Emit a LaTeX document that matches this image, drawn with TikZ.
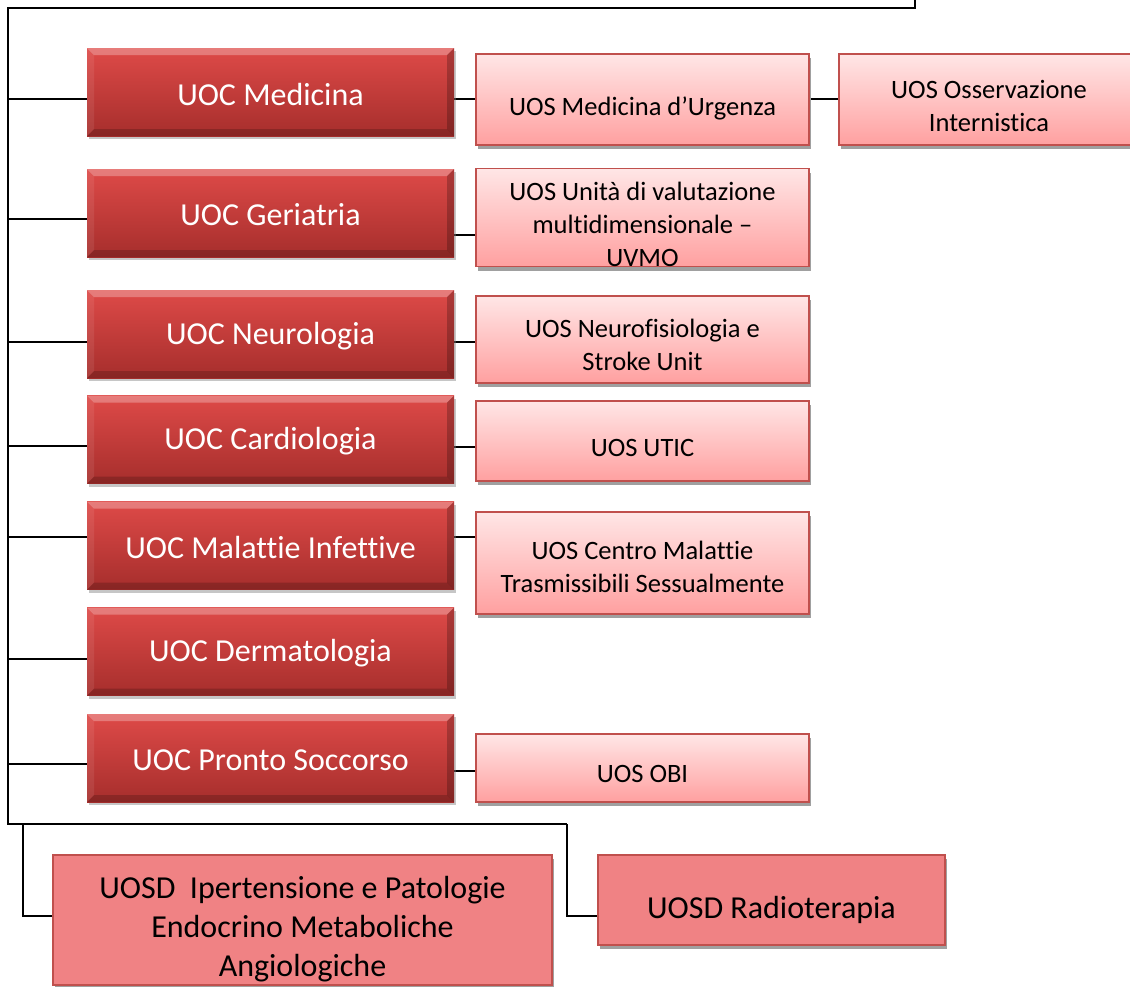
\documentclass[tikz,border=0pt]{standalone}
\usepackage{fontspec}
\setmainfont{Carlito}[Ligatures=CommonOff]
\usetikzlibrary{shadows,backgrounds,calc}
\definecolor{redtop}{RGB}{222,74,72}
\definecolor{redbot}{RGB}{166,46,44}
\definecolor{pinktop}{RGB}{255,230,230}
\definecolor{pinkbot}{RGB}{255,160,160}
\definecolor{pinkline}{RGB}{192,80,77}
\definecolor{uosdfill}{RGB}{240,130,132}
\definecolor{shadowgray}{RGB}{160,160,160}
\newcommand\lowr[2]{\raisebox{-#1}[\height][\depth]{#2}}
\begin{document}
\begin{tikzpicture}[x=1pt,y=-1pt,
  conn/.style={draw=black,line width=2pt},
  bevelpic/.style={path picture={
    \fill[white,opacity=.28] (path picture bounding box.north west) -- (path picture bounding box.north east)
      -- ([shift={(-7pt,-7pt)}]path picture bounding box.north east) -- ([shift={(7pt,-7pt)}]path picture bounding box.north west) -- cycle;
    \fill[black,opacity=.18] (path picture bounding box.south west) -- (path picture bounding box.south east)
      -- ([shift={(-7pt,7pt)}]path picture bounding box.south east) -- ([shift={(7pt,7pt)}]path picture bounding box.south west) -- cycle;
    \fill[black,opacity=.22] (path picture bounding box.north east) -- (path picture bounding box.south east)
      -- ([shift={(-7pt,7pt)}]path picture bounding box.south east) -- ([shift={(-7pt,-7pt)}]path picture bounding box.north east) -- cycle;
    \fill[white,opacity=.08] (path picture bounding box.north west) -- (path picture bounding box.south west)
      -- ([shift={(7pt,7pt)}]path picture bounding box.south west) -- ([shift={(7pt,-7pt)}]path picture bounding box.north west) -- cycle;
  }},
  redbox/.style={rectangle, draw=none, top color=redtop, bottom color=redbot, bevelpic,
    minimum width=367pt, minimum height=88pt, inner sep=0pt, text=white,
    font=\fontsize{32}{38}\selectfont,
    drop shadow={opacity=.45, shadow xshift=2pt, shadow yshift=-3pt}},
  pinkbox/.style={rectangle, draw=pinkline, line width=1.5pt, top color=pinktop, bottom color=pinkbot,
    minimum width=333pt, inner sep=0pt, align=center, text=black,
    font=\fontsize{26.5}{32}\selectfont,
    drop shadow={fill=shadowgray, opacity=1, shadow xshift=2pt, shadow yshift=-4pt}},
  uosdbox/.style={rectangle, draw=pinkline, line width=1.5pt, fill=uosdfill,
    inner sep=0pt, align=center, text=black,
    font=\fontsize{32}{38}\selectfont,
    drop shadow={fill=shadowgray, opacity=1, shadow xshift=2pt, shadow yshift=-4pt}}
]
\useasboundingbox (0,0) rectangle (1130,986);

% UOC boxes
\node[redbox] (m1) at (270.5,92) {\lowr{3pt}{UOC Medicina}};
\node[redbox] (m2) at (270.5,213) {\lowr{2pt}{UOC Geriatria}};
\node[redbox] (m3) at (270.5,334) {\lowr{2pt}{UOC Neurologia}};
\node[redbox] (m4) at (270.5,439.5) {\lowr{2pt}{UOC Cardiologia}};
\node[redbox] (m5) at (270.5,545.5) {\lowr{2pt}{UOC Malattie Infettive}};
\node[redbox] (m6) at (270.5,651.5) {\lowr{2pt}{UOC Dermatologia}};
\node[redbox] (m7) at (270.5,758) {\lowr{2pt}{UOC Pronto Soccorso}};

% UOS boxes
\node[pinkbox, minimum height=91pt] (p1) at (642.5,99.5) {\lowr{9pt}{UOS Medicina d’Urgenza}};
\node[pinkbox, minimum height=91pt, minimum width=300pt] (p1b) at (989,99.5) {\lowr{9pt}{\begin{tabular}{@{}c@{}}UOS Osservazione\\[1pt] Internistica\end{tabular}}};
\node[pinkbox, minimum height=97pt] (p2) at (642.5,217.5) {\lowr{9.5pt}{\begin{tabular}{@{}c@{}}UOS Unità di valutazione\\[1pt] multidimensionale –\\[1pt] UVMO\end{tabular}}};
\node[pinkbox, minimum height=87pt] (p3) at (642.5,339.5) {\lowr{8.5pt}{\begin{tabular}{@{}c@{}}UOS Neurofisiologia e\\[1pt] Stroke Unit\end{tabular}}};
\node[pinkbox, minimum height=80pt] (p4) at (642.5,441) {\lowr{7pt}{UOS UTIC}};
\node[pinkbox, minimum height=102pt] (p5) at (642.5,563) {\lowr{7pt}{\begin{tabular}{@{}c@{}}UOS Centro Malattie\\[1pt] Trasmissibili Sessualmente\end{tabular}}};
\node[pinkbox, minimum height=68pt] (p7) at (642.5,768) {\lowr{6pt}{UOS OBI}};

% UOSD boxes
\node[uosdbox, minimum width=499pt, minimum height=130pt] (u1) at (302.5,920) {\lowr{10pt}{\begin{tabular}{@{}c@{}}UOSD\ \ Ipertensione e Patologie\\[1pt] Endocrino Metaboliche\\[1pt] Angiologiche\end{tabular}}};
\node[uosdbox, minimum width=347pt, minimum height=90pt] (u2) at (771.5,900) {\lowr{10pt}{UOSD Radioterapia}};

\begin{scope}[on background layer]
  \coordinate (top) at (915,-5);
  \coordinate (tl) at (7.5,8);
  \coordinate (bl) at (7.5,824);
  \coordinate (br) at (567,824);
  \coordinate (b1) at (23,824);
  \coordinate (k1) at (23,916);
  \draw[conn] (top) |- (tl) -- (bl) -- (br);
  \draw[conn] (b1) -- (k1) -- (k1 -| u1.west);
  \draw[conn] (br) -- (br |- k1) -- (k1 -| u2.west);
  % spine to UOC
  \foreach \m/\yy in {m1/99,m2/219,m3/342,m4/446,m5/537,m6/659,m7/764}{
    \coordinate (j) at (7.5,\yy);
    \draw[conn] (j) -- (j -| \m.west);
  }
  % UOC to UOS
  \foreach \m/\p/\yy in {m1/p1/99,m2/p2/235,m3/p3/342,m4/p4/447,m5/p5/537,m7/p7/771}{
    \coordinate (c) at (440,\yy);
    \draw[conn] (c) -- (c -| \p.west);
  }
  \coordinate (c0) at (809,99);
  \draw[conn] (c0) -- (c0 -| p1b.west);
\end{scope}
\end{tikzpicture}
\end{document}
